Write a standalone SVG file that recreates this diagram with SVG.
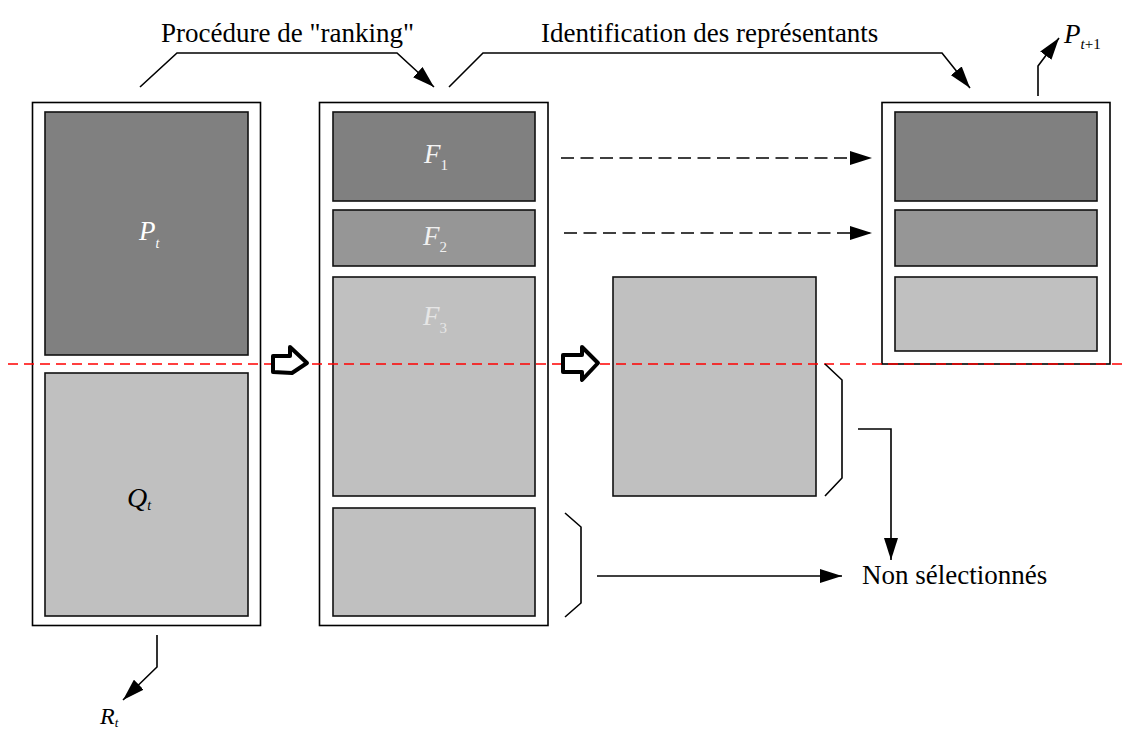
<svg xmlns="http://www.w3.org/2000/svg" width="1126" height="729" viewBox="0 0 1126 729">
<style>
.outer{fill:#fff;stroke:#000;stroke-width:1.6}
.inner{stroke:#111;stroke-width:1.6}
.dark{fill:#808080}
.mid{fill:#969696}
.light{fill:#c0c0c0}
.ln{fill:none;stroke:#000;stroke-width:1.6}
.dash{fill:none;stroke:#000;stroke-width:1.6;stroke-dasharray:13,6.5}
.hol{fill:#fff;stroke:#000;stroke-width:4;stroke-linejoin:round}
text{font-family:"Times New Roman","Liberation Serif",Tinos,"DejaVu Serif",serif}
.t{font-size:27px;fill:#000}
.it{font-style:italic}
.up{font-style:normal}
</style>
<defs>
<marker id="ah" viewBox="0 0 22 14" refX="22" refY="7" markerWidth="22" markerHeight="14" orient="auto" markerUnits="userSpaceOnUse">
<path d="M0,0 L22,7 L0,14 z" fill="#000"/>
</marker>
</defs>
<rect width="1126" height="729" fill="#fff"/>

<g id="col-left">
<rect class="outer" x="32.5" y="102.5" width="228" height="523"/>
<rect class="inner dark" x="45" y="112" width="203" height="243"/>
<rect class="inner light" x="45" y="373" width="203" height="243"/>
<text x="139" y="240" font-size="27" fill="#fff"><tspan class="it">P</tspan><tspan class="it" font-size="14" dy="8">t</tspan></text>
<text x="127" y="507" font-size="28" fill="#000"><tspan class="it">Q</tspan><tspan class="it" font-size="14" dy="3">t</tspan></text>
</g>

<g id="col-middle">
<rect class="outer" x="319.5" y="102.5" width="228.5" height="523"/>
<rect class="inner dark" x="333" y="112" width="202" height="89"/>
<rect class="inner mid" x="333" y="210" width="202" height="56"/>
<rect class="inner light" x="333" y="277" width="202" height="219"/>
<rect class="inner light" x="333" y="508" width="202" height="108"/>
<text x="424" y="163" font-size="27" fill="#f4f4f4"><tspan class="it">F</tspan><tspan class="up" font-size="15" dy="7">1</tspan></text>
<text x="423" y="245" font-size="27" fill="#f0f0f0"><tspan class="it">F</tspan><tspan class="up" font-size="15" dy="7">2</tspan></text>
<text x="423" y="325" font-size="27" fill="#e6e6e6"><tspan class="it">F</tspan><tspan class="up" font-size="15" dy="8">3</tspan></text>
</g>

<g id="col-third">
<rect class="inner light" x="613" y="277" width="203" height="219"/>
</g>

<g id="col-right">
<rect class="outer" x="882" y="102.5" width="228" height="261.5"/>
<rect class="inner dark" x="895" y="112" width="202" height="89"/>
<rect class="inner mid" x="895" y="210" width="202" height="56"/>
<rect class="inner light" x="895" y="277" width="202" height="74"/>
</g>

<g id="labels">
<text class="t" x="161" y="42">Procédure de "ranking"</text>
<text class="t" x="541" y="42">Identification des représentants</text>
<text class="t" x="862" y="584">Non sélectionnés</text>
<text x="1064" y="43" font-size="27"><tspan class="it">P</tspan><tspan font-size="15" dy="6"><tspan class="it">t</tspan><tspan class="up">+1</tspan></tspan></text>
<text x="100" y="724" font-size="24"><tspan class="it">R</tspan><tspan class="it" font-size="13" dy="3">t</tspan></text>
</g>

<g id="connectors">
<line x1="8" y1="364" x2="1126" y2="364" stroke="#ff0000" stroke-width="1.6" stroke-dasharray="10,6"/>
<polyline class="ln" points="140,87 177,53 397,53 434,87" marker-end="url(#ah)"/>
<polyline class="ln" points="449,87 483,53 942,53 970,88" marker-end="url(#ah)"/>
<polyline class="ln" points="1038,96 1038,66 1059,38" marker-end="url(#ah)"/>
<polyline class="ln" points="157,635 157,667 123,700" marker-end="url(#ah)"/>
<line class="dash" x1="561" y1="158" x2="872" y2="158" marker-end="url(#ah)"/>
<line class="dash" x1="564" y1="233" x2="872" y2="233" marker-end="url(#ah)"/>
<polyline class="ln" points="565,513 581,527 581,603 565,617"/>
<line class="ln" x1="597" y1="576" x2="842" y2="576" marker-end="url(#ah)"/>
<polyline class="ln" points="825,364 842,380 842,478 825,496"/>
<polyline class="ln" points="858,429 891,429 891,560" marker-end="url(#ah)"/>
<polygon class="hol" points="273,356 290,356 290,347 307,363 292,373 273,372"/>
<polygon class="hol" points="563,355 582,355 582,347 598,363 582,380 582,372 563,372"/>
</g>
</svg>
